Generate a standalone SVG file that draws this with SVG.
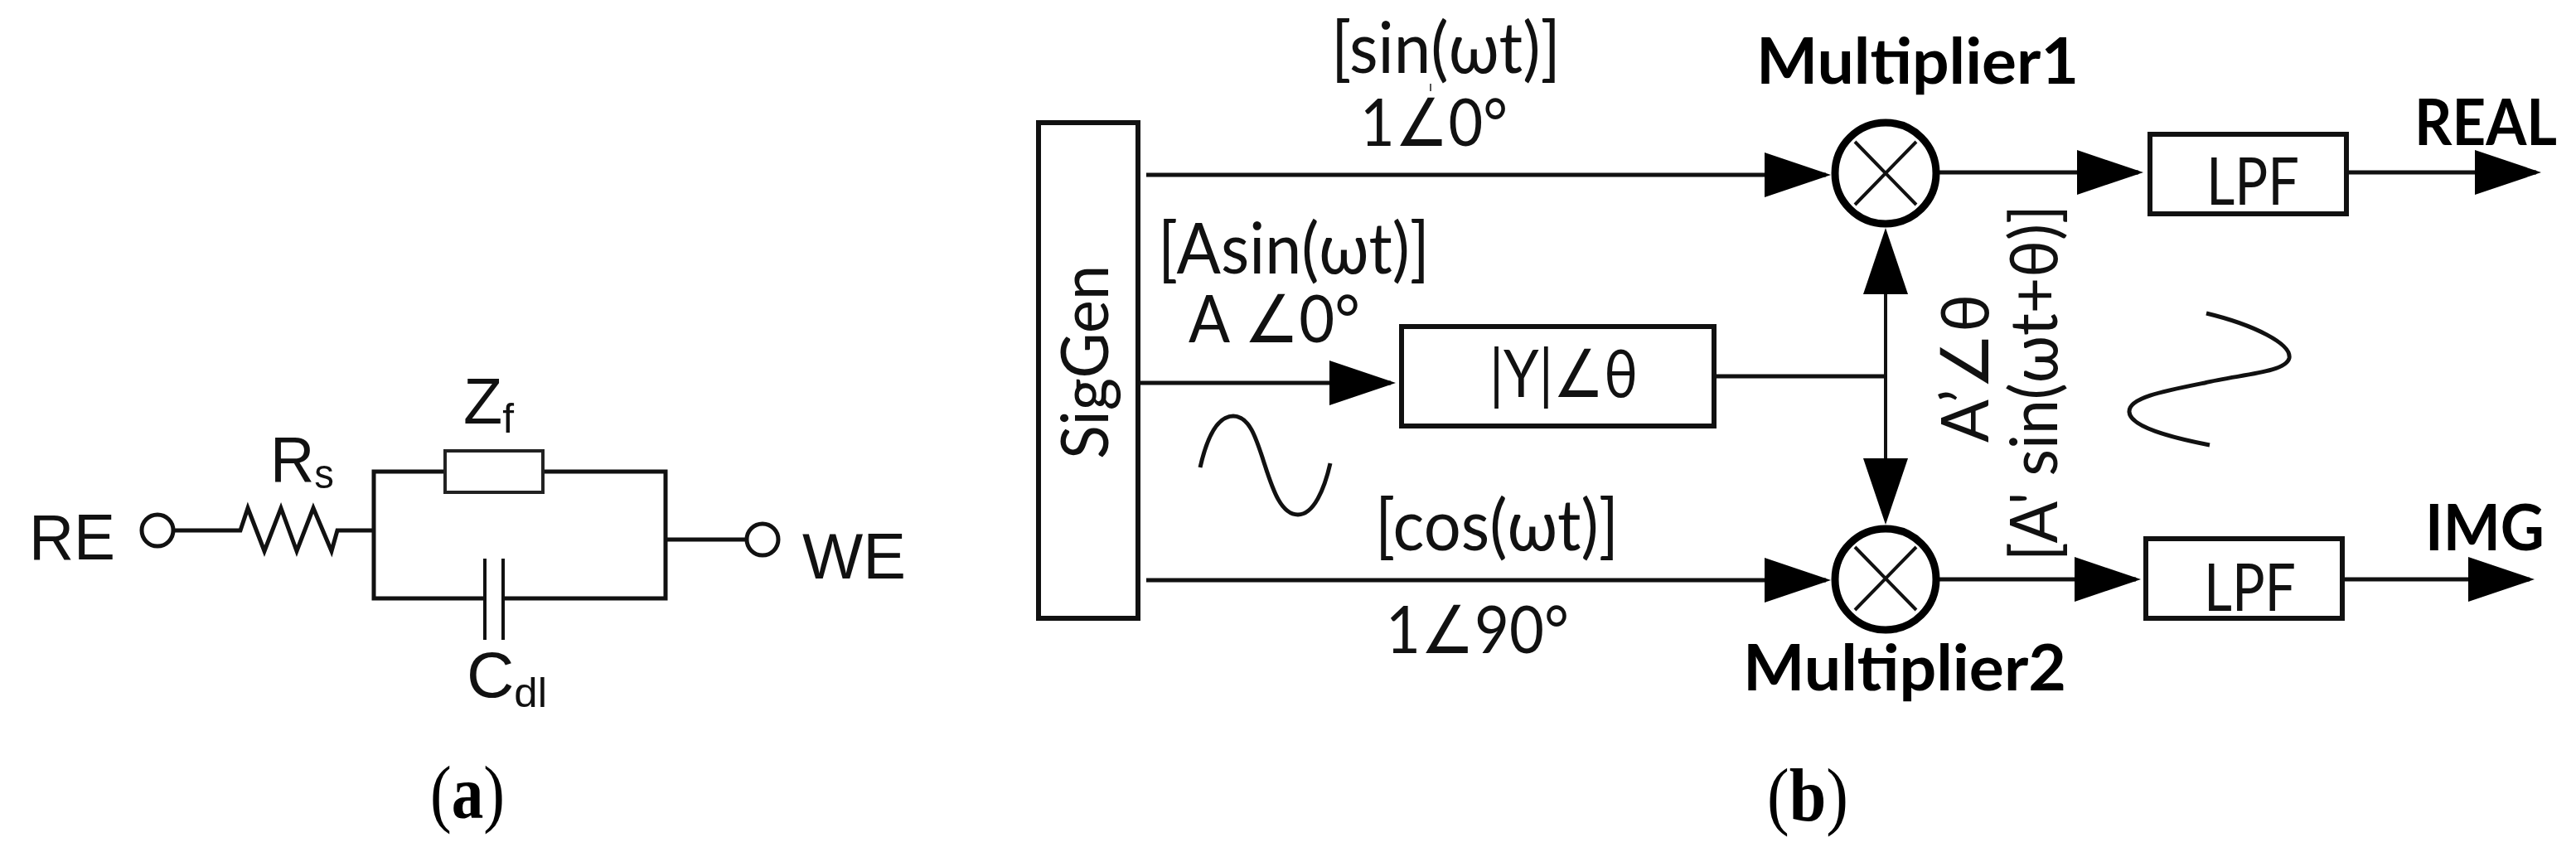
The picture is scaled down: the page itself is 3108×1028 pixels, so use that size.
<svg xmlns="http://www.w3.org/2000/svg" width="3108" height="1028" viewBox="0 0 3108 1028">
<style>
.w{stroke:#111;fill:none;stroke-width:5}
.t{stroke:#111;fill:none;stroke-width:4}
.a{marker-end:url(#arrow)}
.box{fill:#fff;stroke:#111;stroke-width:6}
.ring{fill:#fff;stroke:#000;stroke-width:9}
.x{stroke:#111;stroke-width:4;fill:none}
.c{font-family:"Liberation Sans",Arial,sans-serif;font-size:78px;fill:#111}
.sub{font-size:50px}
.l{font-family:"Lato","Open Sans","DejaVu Sans",sans-serif;font-weight:400;font-size:80px;fill:#111}
.br{font-size:86px}
.ang{font-family:"DejaVu Sans",sans-serif;font-weight:200}
.b{font-family:"Lato","Open Sans","DejaVu Sans",sans-serif;font-weight:700;font-size:76px;fill:#000}
.cap{font-family:"Liberation Serif","Times New Roman",serif;font-size:92px;fill:#000}
.cap tspan{font-weight:700}
</style>
<defs>
<marker id="arrow" markerUnits="userSpaceOnUse" markerWidth="80" markerHeight="54" viewBox="0 0 80 54" refX="74" refY="27" orient="auto"><path d="M0 0L80 27L0 54Z" fill="#000"/></marker>
</defs>
<rect width="3108" height="1028" fill="#fff"/>

<g id="connectors">
<path class="w" d="M209 640H290L299 613L319 665L339 613L358 665L378 613L400 665L407 640H451"/>
<path class="w" d="M537 569H451V722H585M607 722H803V569H655"/>
<path class="w" d="M803 651H901"/>
<path class="t" d="M585 674V772M607 674V772"/>
<path class="w a" d="M1383 211H2203"/>
<path class="w a" d="M1373 462H1678"/>
<path class="w" d="M2068 454H2275"/>
<path class="t a" d="M2275 454V281"/>
<path class="t a" d="M2275 454V627"/>
<path class="w a" d="M1383 700H2203"/>
<path class="w a" d="M2339 208H2580"/>
<path class="w a" d="M2339 699H2577"/>
<path class="w a" d="M2834 208H3060"/>
<path class="w a" d="M2827 699H3052"/>
<path class="w" d="M1448 564C1458 520 1472 502 1488 502C1508 502 1516 530 1526 561C1536 592 1546 621 1566 621C1585 621 1598 590 1605 559"/>
<path class="w" d="M2662 378C2720 392 2765 415 2762 432C2758 450 2700 452 2660 462C2610 472 2568 480 2569 497C2570 515 2620 528 2666 537"/>
<path stroke="#555" stroke-width="2" fill="none" d="M1726 101V110"/>
</g>

<g id="node-re"><circle class="w" cx="190" cy="640" r="19" fill="#fff"/><text class="c" x="35" y="675" textLength="104" lengthAdjust="spacingAndGlyphs">RE</text></g>
<g id="node-rs"><text class="c" x="326" y="581" textLength="77" lengthAdjust="spacingAndGlyphs">R<tspan class="sub" dy="8">s</tspan></text></g>
<g id="node-zf"><rect x="537" y="544" width="118" height="50" fill="#fff" stroke="#222" stroke-width="4"/><text class="c" x="559" y="511" textLength="61" lengthAdjust="spacingAndGlyphs">Z<tspan class="sub" dy="11">f</tspan></text></g>
<g id="node-cdl"><text class="c" x="563" y="841" textLength="97" lengthAdjust="spacingAndGlyphs">C<tspan class="sub" dy="12">dl</tspan></text></g>
<g id="node-we"><circle class="w" cx="920" cy="651" r="19" fill="#fff"/><text class="c" x="968" y="698" textLength="125" lengthAdjust="spacingAndGlyphs">WE</text></g>
<g id="caption-a"><text class="cap" x="519" y="987" textLength="90" lengthAdjust="spacingAndGlyphs">(<tspan>a</tspan>)</text></g>

<g id="node-siggen"><rect class="box" x="1253" y="148" width="120" height="598"/><text class="l" transform="translate(1337 554) rotate(-90)" textLength="234" lengthAdjust="spacingAndGlyphs">SigGen</text></g>
<g id="node-y"><rect class="box" x="1691" y="394" width="377" height="120"/><text class="l" x="1797" y="479" textLength="179" lengthAdjust="spacingAndGlyphs">|Y|<tspan class="ang">∠</tspan>θ</text></g>
<g id="node-mult1"><circle class="ring" cx="2275" cy="209" r="61"/><path class="x" d="M2238 171L2312 247M2312 171L2238 247"/><text class="b" x="2119" y="101" textLength="389" lengthAdjust="spacingAndGlyphs">Multiplier1</text></g>
<g id="node-mult2"><circle class="ring" cx="2275" cy="699" r="61"/><path class="x" d="M2238 660L2312 736M2312 660L2238 736"/><text class="b" x="2103" y="833" textLength="390" lengthAdjust="spacingAndGlyphs">Multiplier2</text></g>
<g id="node-lpf1"><rect class="box" x="2594" y="162" width="237" height="96"/><text class="l" x="2662" y="247" textLength="112" lengthAdjust="spacingAndGlyphs">LPF</text></g>
<g id="node-lpf2"><rect class="box" x="2589" y="650" width="237" height="96"/><text class="l" x="2659" y="737" textLength="111" lengthAdjust="spacingAndGlyphs">LPF</text></g>

<g id="labels">
<text class="l br" x="1606" y="88" textLength="277" lengthAdjust="spacingAndGlyphs">[sin(ωt)]</text>
<text class="l" x="1641" y="176" textLength="178" lengthAdjust="spacingAndGlyphs">1<tspan class="ang">∠</tspan>0°</text>
<text class="l br" x="1397" y="330" textLength="328" lengthAdjust="spacingAndGlyphs">[Asin(ωt)]</text>
<text class="l" x="1434" y="413" textLength="207" lengthAdjust="spacingAndGlyphs">A <tspan class="ang">∠</tspan>0°</text>
<text class="l br" x="1659" y="664" textLength="294" lengthAdjust="spacingAndGlyphs">[cos(ωt)]</text>
<text class="l" x="1672" y="788" textLength="221" lengthAdjust="spacingAndGlyphs">1<tspan class="ang">∠</tspan>90°</text>
<text class="l" transform="translate(2399 534) rotate(-90)" textLength="179" lengthAdjust="spacingAndGlyphs">A’<tspan class="ang">∠</tspan>θ</text>
<text class="l" transform="translate(2482 677) rotate(-90)" textLength="430" lengthAdjust="spacingAndGlyphs">[A' sin(ωt+θ)]</text>
<text class="b" x="2913" y="175" textLength="172" lengthAdjust="spacingAndGlyphs">REAL</text>
<text class="b" x="2926" y="664" textLength="144" lengthAdjust="spacingAndGlyphs">IMG</text>
</g>
<g id="caption-b"><text class="cap" x="2132" y="990" textLength="98" lengthAdjust="spacingAndGlyphs">(<tspan>b</tspan>)</text></g>
</svg>
